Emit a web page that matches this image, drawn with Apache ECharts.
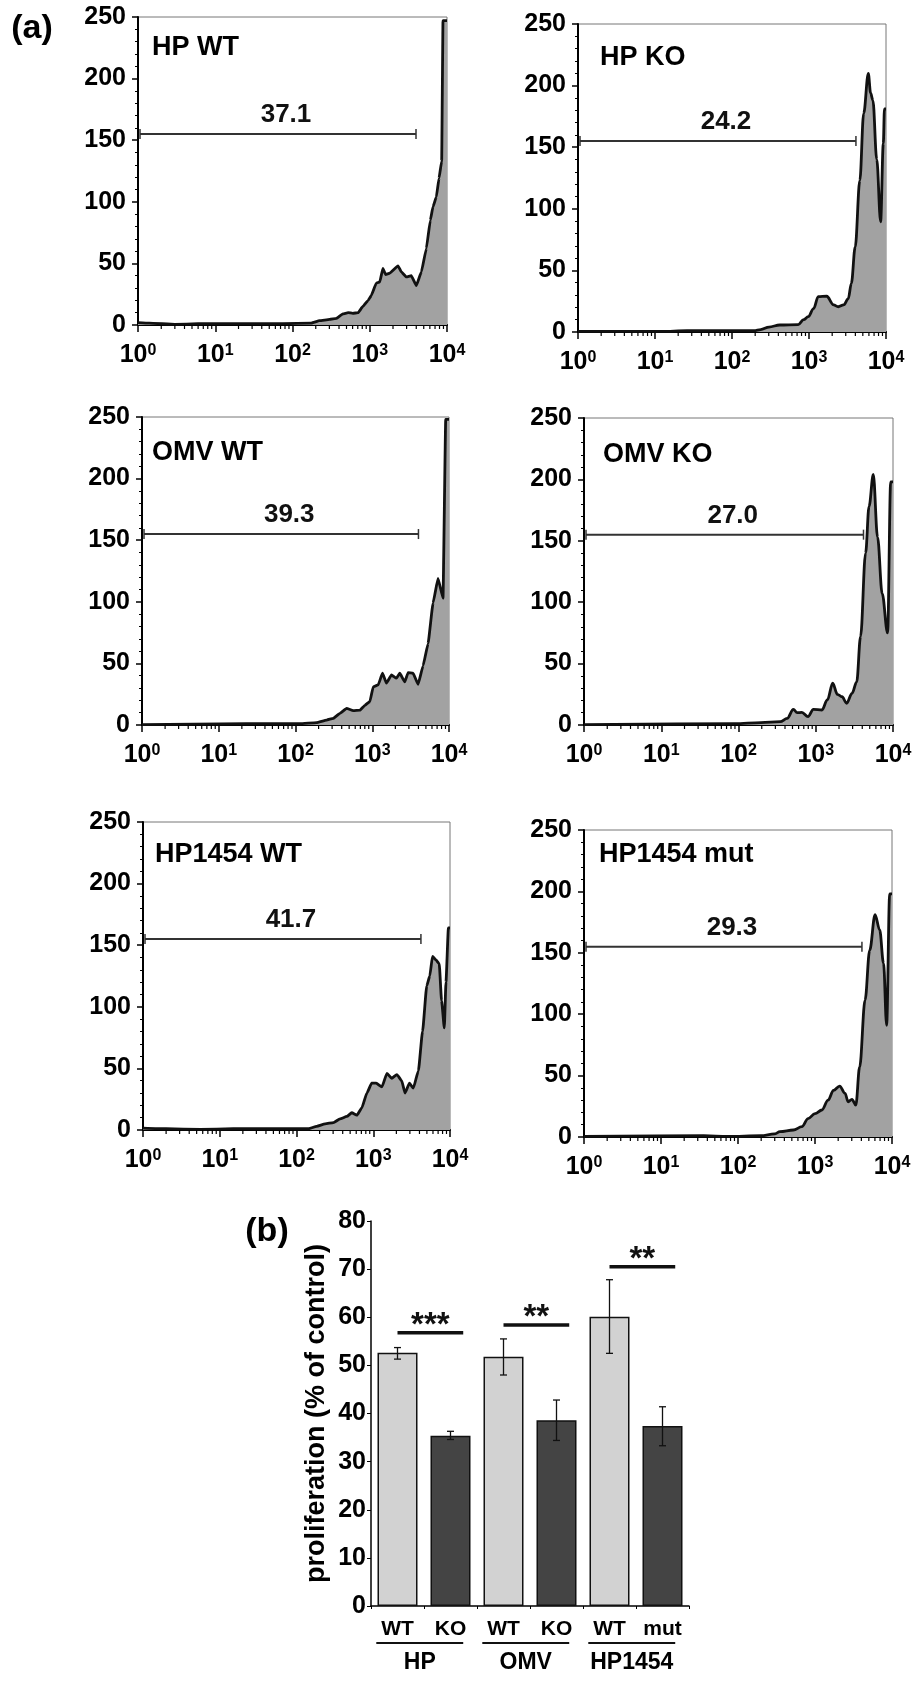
<!DOCTYPE html>
<html>
<head>
<meta charset="utf-8">
<script src="https://cdn.jsdelivr.net/npm/echarts@6/dist/echarts.min.js"></script>
<style>
html,body{margin:0;padding:0;background:#fff;}
#c{width:922px;height:1693px;}
</style>
</head>
<body>
<div id="c"></div>
<script>
// ---------------- DATA ----------------
const panelNames = ['HP WT', 'HP KO', 'OMV WT', 'OMV KO', 'HP1454 WT', 'HP1454 mut'];
const gateLabels = ['37.1', '24.2', '39.3', '27.0', '41.7', '29.3'];
const gateLeft = 1;
const gateRight = [3970, 4070, 4000, 4150, 4180, 4070];
const gateLevel = 155;
const minorTickValues = [2,3,4,5,6,7,8,9,20,30,40,50,60,70,80,90,200,300,400,500,600,700,800,900,2000,3000,4000,5000,6000,7000,8000,9000];

const hpWtX = [1, 1.4, 3, 6, 17, 75, 175, 224, 302, 371, 447, 525, 603, 707, 813, 955, 1047, 1216, 1349, 1479, 1607, 1811, 2323, 2570, 2979, 3451, 4009, 4656, 5400, 6081, 6590, 7278, 7876, 8531, 8872, 10000];
const hpWtY = [2, 1.5, 0.5, 1, 1, 1, 1.5, 3.5, 4.6, 5.4, 9, 10, 9.5, 10, 15, 20, 24, 34, 35, 46, 41, 42, 48, 43, 39, 40, 32, 43, 62, 85, 96, 104, 119, 133, 247, 247];

const hpKoX = [1, 12, 26, 48, 194, 236, 302, 417, 724, 851, 977, 1148, 1318, 1698, 2089, 2399, 2818, 3236, 3548, 3981, 4571, 5129, 5888, 6310, 6761, 7586, 8511, 9226, 9550, 10000];
const hpKoY = [0.5, 0.5, 1, 1, 1, 2, 4, 5.7, 6, 10, 12.4, 19, 28.7, 29, 22, 20.5, 22, 27, 39.5, 69, 123, 177.5, 210, 194, 188, 140, 89.5, 153, 181, 181];

const omvWtX = [1, 23, 114, 188, 254, 310, 379, 463, 565, 690, 801, 931, 1028, 1194, 1359, 1532, 1779, 2066, 2283, 2652, 2930, 3404, 3954, 4592, 5333, 6194, 7194, 8355, 9055, 10000];
const omvWtY = [0.3, 1, 1, 2, 4, 5.4, 9.5, 13.5, 11.6, 12, 16, 19, 31, 32.5, 42, 34, 40.6, 38, 42, 35, 42.5, 42, 33, 48, 66, 99, 119, 103, 248, 248];

const omvKoX = [1, 89, 195, 347, 427, 513, 575, 661, 794, 933, 1202, 1413, 1660, 1905, 2188, 2512, 2951, 3388, 3802, 4416, 4898, 5559, 6310, 7244, 8511, 9333, 10000];
const omvKoY = [0.3, 1, 2, 2.7, 5.4, 12.8, 10, 10.3, 6.8, 12.8, 12.2, 20.4, 34, 25, 23, 17.7, 25.8, 35, 72, 140, 178, 204, 153, 107, 75, 198, 198];

const hp1454WtX = [1, 2, 5.6, 15, 68, 144, 183, 236, 303, 369, 453, 525, 612, 710, 826, 955, 1093, 1296, 1508, 1741, 2032, 2344, 2598, 2963, 3324, 3872, 4388, 4978, 5450, 5914, 6553, 7237, 7765, 8431, 8860, 9530, 10000];
const hp1454WtY = [1.5, 1, 0.5, 1, 1, 1, 3, 5, 6, 9, 11, 14, 12, 18, 30, 38, 38, 35, 46, 42, 45, 40, 30, 38, 34, 48, 80, 117, 125, 141, 138, 135, 105, 83, 120, 164, 164];

const hp1454MutX = [1, 36, 73, 199, 297, 351, 525, 676, 813, 1000, 1230, 1479, 1738, 2089, 2455, 2692, 3020, 3388, 3802, 4467, 5129, 6026, 6918, 7762, 8511, 9333, 10000];
const hp1454MutY = [0.5, 1, 0.5, 1, 2.5, 4.3, 5.7, 8.4, 15, 19, 22, 30, 38, 41.5, 35.6, 28.7, 30.7, 26, 57, 111.5, 152, 181, 168.6, 141.5, 91, 198, 198];

const barCategories = ['WT', 'KO', 'WT', 'KO', 'WT', 'mut'];
const barGroups = ['HP', 'OMV', 'HP1454'];
const barValues = [52.6, 35.4, 51.8, 38.6, 60.1, 37.4];
const errHigh = [53.7, 36.3, 55.5, 42.8, 67.8, 41.4];
const errLow = [51.3, 34.6, 48.0, 34.4, 52.5, 33.3];
const sigLabels = ['***', '**', '**'];
const sigLevels = [56.8, 58.4, 70.5];

// ---------------- LAYOUT / STYLE ----------------
const FONT = '"Liberation Sans", Arial, Helvetica, sans-serif';
const histX = [hpWtX, hpKoX, omvWtX, omvKoX, hp1454WtX, hp1454MutX];
const histY = [hpWtY, hpKoY, omvWtY, omvKoY, hp1454WtY, hp1454MutY];
const smoothness = [0.1, 0.35, 0.1, 0.35, 0.15, 0.35];
const panelBoxes = [
  {left:138, top:17, width:309, height:308},
  {left:578, top:24, width:308, height:308},
  {left:142, top:417, width:307, height:308},
  {left:584, top:418, width:309, height:307},
  {left:143, top:822, width:307, height:308},
  {left:584, top:830, width:308, height:307}
];
const panelLabelPos = [[152,48],[600,58],[152,453],[603,455],[155,855],[599,855]];
const barBox = {left:371, top:1221, width:318, height:385};

const grids = [];
const xAxes = [];
const yAxes = [];
const series = [];

panelBoxes.forEach((b, i) => {
  grids.push(Object.assign({show:true, borderColor:'#777', borderWidth:1, backgroundColor:'transparent', containLabel:false, outerBoundsMode:'none'}, b));
  xAxes.push({
    type:'log', logBase:10, min:1, max:10000, gridIndex:i,
    axisLine:{show:true, onZero:false, lineStyle:{color:'#000', width:2}},
    axisTick:{show:true, length:7, lineStyle:{color:'#000', width:1.5}},
    splitLine:{show:false},
    axisLabel:{
      margin:18, color:'#000', fontSize:25, fontWeight:'bold', fontFamily:FONT,
      hideOverlap:false, showMinLabel:true, showMaxLabel:true,
      formatter: v => '10{s|' + Math.round(Math.log10(v)) + '}',
      rich:{s:{fontSize:16, fontWeight:'bold', fontFamily:FONT, color:'#000', verticalAlign:'top'}}
    }
  });
  yAxes.push({
    type:'value', min:0, max:250, interval:50, gridIndex:i,
    axisLine:{show:true, onZero:false, lineStyle:{color:'#000', width:2}},
    axisTick:{show:true, length:6, lineStyle:{color:'#000', width:1.5}},
    minorTick:{show:true, splitNumber:5, length:3, lineStyle:{color:'#000', width:1}},
    splitLine:{show:false},
    axisLabel:{margin:12, color:'#000', fontSize:25, fontWeight:'bold', fontFamily:FONT}
  });
  series.push({
    type:'line', xAxisIndex:i, yAxisIndex:i, showSymbol:false, symbol:'none',
    smooth:smoothness[i], smoothMonotone:'x',
    data: histX[i].map((x, k) => [x, histY[i][k]]),
    lineStyle:{color:'#111', width:2.8},
    areaStyle:{color:'#a2a2a2', opacity:1},
    z:2, silent:true
  });
  // minor log ticks
  series.push({
    type:'custom', xAxisIndex:i, yAxisIndex:i, clip:false, silent:true, z:5,
    data: minorTickValues.map(v => [v, 0]),
    renderItem: (params, api) => {
      const p = api.coord([api.value(0), 0]);
      return {type:'line', shape:{x1:p[0], y1:p[1], x2:p[0], y2:p[1] + 4}, style:{stroke:'#000', lineWidth:1.2}};
    }
  });
  // gate
  series.push({
    type:'custom', xAxisIndex:i, yAxisIndex:i, clip:false, silent:true, z:6,
    data: [[gateLeft, gateLevel, gateRight[i]]],
    renderItem: (params, api) => {
      const p1 = api.coord([api.value(0), api.value(1)]);
      const p2 = api.coord([api.value(2), api.value(1)]);
      const x1 = p1[0] + 2, x2 = p2[0], y = p1[1];
      return {type:'group', children:[
        {type:'line', shape:{x1:x1, y1:y, x2:x2, y2:y}, style:{stroke:'#333', lineWidth:2}},
        {type:'line', shape:{x1:x1, y1:y - 5, x2:x1, y2:y + 5}, style:{stroke:'#333', lineWidth:1.5}},
        {type:'line', shape:{x1:x2, y1:y - 5, x2:x2, y2:y + 5}, style:{stroke:'#333', lineWidth:1.5}},
        {type:'text', x:(x1 + x2) / 2 + 8, y:y - 19, style:{text:gateLabels[i], fill:'#111', font:'bold 26px ' + FONT, textAlign:'center', textVerticalAlign:'middle'}}
      ]};
    }
  });
});

// bar chart
const BI = 6;
grids.push(Object.assign({show:false, containLabel:false, outerBoundsMode:'none'}, barBox));
xAxes.push({
  type:'category', gridIndex:BI, data:barCategories,
  axisLine:{show:true, lineStyle:{color:'#000', width:1.5}},
  axisTick:{show:true, length:3, alignWithLabel:false, lineStyle:{color:'#000', width:1}},
  axisLabel:{margin:13, color:'#000', fontSize:21, fontWeight:'bold', fontFamily:FONT, interval:0}
});
yAxes.push({
  type:'value', gridIndex:BI, min:0, max:80, interval:10,
  axisLine:{show:true, lineStyle:{color:'#000', width:1.5}},
  axisTick:{show:true, length:4, lineStyle:{color:'#000', width:1}},
  splitLine:{show:false},
  axisLabel:{margin:5, color:'#000', fontSize:25, fontWeight:'bold', fontFamily:FONT},
  name:'proliferation (% of control)', nameLocation:'middle', nameGap:41,
  nameTextStyle:{color:'#000', fontSize:27, fontWeight:'bold', fontFamily:FONT}
});
series.push({
  type:'bar', xAxisIndex:BI, yAxisIndex:BI, barWidth:40, silent:true,
  data: barValues,
  itemStyle:{
    color: p => (p.dataIndex % 2 === 0 ? '#d2d2d2' : '#444444'),
    borderColor:'#111', borderWidth:1.5
  }
});
series.push({
  type:'custom', xAxisIndex:BI, yAxisIndex:BI, clip:false, silent:true, z:5,
  data: barValues.map((v, k) => [k, errLow[k], errHigh[k]]),
  encode:{x:0, y:[1, 2]},
  renderItem: (params, api) => {
    const lo = api.coord([api.value(0), api.value(1)]);
    const hi = api.coord([api.value(0), api.value(2)]);
    const x = lo[0], hw = 3.5;
    const st = {stroke:'#111', lineWidth:1.3};
    return {type:'group', children:[
      {type:'line', shape:{x1:x, y1:lo[1], x2:x, y2:hi[1]}, style:st},
      {type:'line', shape:{x1:x - hw, y1:lo[1], x2:x + hw, y2:lo[1]}, style:st},
      {type:'line', shape:{x1:x - hw, y1:hi[1], x2:x + hw, y2:hi[1]}, style:st}
    ]};
  }
});
// significance bars
series.push({
  type:'custom', xAxisIndex:BI, yAxisIndex:BI, clip:false, silent:true, z:6,
  data: sigLabels.map((s, k) => [2 * k, sigLevels[k], 2 * k + 1]),
  renderItem: (params, api) => {
    const w = api.size([1, 0])[0];
    const p1 = api.coord([api.value(0), api.value(1)]);
    const p2 = api.coord([api.value(2), api.value(1)]);
    const x1 = p1[0], x2 = p2[0] + 0.24 * w, y = p1[1];
    return {type:'group', children:[
      {type:'line', shape:{x1:x1, y1:y, x2:x2, y2:y}, style:{stroke:'#111', lineWidth:3.5}},
      {type:'text', x:(x1 + x2) / 2, y:y - 7, style:{text:sigLabels[params.dataIndex], fill:'#111', font:'bold 33px ' + FONT, textAlign:'center', textVerticalAlign:'middle'}}
    ]};
  }
});
// group labels under x-axis
series.push({
  type:'custom', xAxisIndex:BI, yAxisIndex:BI, clip:false, silent:true, z:6,
  data: barGroups.map((g, k) => [2 * k, 0, 2 * k + 1]),
  renderItem: (params, api) => {
    const w = api.size([1, 0])[0];
    const p1 = api.coord([api.value(0), 0]);
    const p2 = api.coord([api.value(2), 0]);
    const x1 = p1[0] - 0.4 * w, x2 = p2[0] + 0.24 * w, y = p1[1];
    return {type:'group', children:[
      {type:'line', shape:{x1:x1, y1:y + 37, x2:x2, y2:y + 37}, style:{stroke:'#111', lineWidth:2}},
      {type:'text', x:(x1 + x2) / 2, y:y + 57, style:{text:barGroups[params.dataIndex], fill:'#000', font:'bold 23px ' + FONT, textAlign:'center', textVerticalAlign:'middle'}}
    ]};
  }
});

const graphics = [
  {type:'text', x:32, y:29, style:{text:'(a)', fill:'#000', font:'bold 34px ' + FONT, textAlign:'center', textVerticalAlign:'middle'}},
  {type:'text', x:267, y:1232, style:{text:'(b)', fill:'#000', font:'bold 34px ' + FONT, textAlign:'center', textVerticalAlign:'middle'}}
];
panelNames.forEach((n, i) => {
  graphics.push({type:'text', x:panelLabelPos[i][0], y:panelLabelPos[i][1], z:10,
    style:{text:n, fill:'#000', font:'bold 27px ' + FONT, textAlign:'left', textVerticalAlign:'middle'}});
});

const chart = echarts.init(document.getElementById('c'), null, {renderer:'canvas', width:922, height:1693});
chart.setOption({
  backgroundColor:'#ffffff',
  animation:false,
  textStyle:{fontFamily:FONT},
  grid:grids,
  xAxis:xAxes,
  yAxis:yAxes,
  series:series,
  graphic:graphics
});
</script>
</body>
</html>
